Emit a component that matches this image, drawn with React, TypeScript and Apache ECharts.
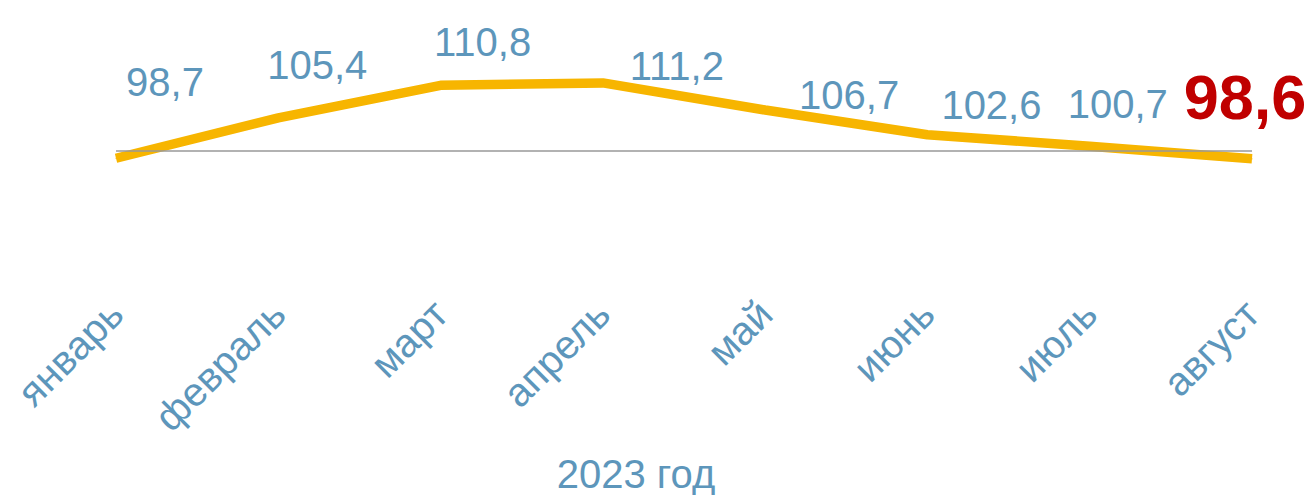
import React, { useEffect, useRef } from "react";
import * as echarts from "echarts";

const categories = ["январь", "февраль", "март", "апрель", "май", "июнь", "июль", "август"];
const values = [98.7, 105.4, 110.8, 111.2, 106.7, 102.6, 100.7, 98.6];
const baseline = 100;
const axisName = "2023 год";

// label layout (pixel offsets from each point)
const labelOffsets: [number, number][] = [
  [49, -76],
  [39, -53],
  [42, -43],
  [74, -17],
  [84, -15],
  [64, -30],
  [28, -42],
  [-7, -62],
];

const BLUE = "#5d96bb";
const FONT = "Arial, 'Liberation Sans', sans-serif";

export default function App() {
  const ref = useRef<HTMLDivElement>(null);
  useEffect(() => {
    document.body.style.margin = "0";
    const chart = echarts.init(ref.current!, undefined, { renderer: "svg" });
    const last = values.length - 1;
    chart.setOption({
      animation: false,
      grid: { left: 116, right: 56, top: 60, bottom: 207.5 },
      xAxis: {
        type: "category",
        data: categories,
        boundaryGap: false,
        axisLine: { show: false },
        axisTick: { show: false },
        axisLabel: {
          rotate: 45,
          color: BLUE,
          fontSize: 40,
          fontFamily: FONT,
          margin: 24,
          interval: 0,
        },
        name: axisName,
        nameLocation: "middle",
        nameGap: 171,
        nameTextStyle: { color: BLUE, fontSize: 40, fontFamily: FONT, padding: [0, 96, 0, 0] },
      },
      yAxis: {
        type: "value",
        min: 78,
        max: 115,
        show: false,
      },
      series: [
        {
          type: "line",
          data: [],
          z: 1,
          markLine: {
            silent: true,
            symbol: "none",
            label: { show: false },
            lineStyle: { color: "#999999", width: 1.5, type: "solid" },
            data: [{ yAxis: baseline }],
          },
        },
        {
          type: "line",
          z: 2,
          data: values.map((v, i) => ({
            value: v,
            label: {
              offset: labelOffsets[i],
              ...(i === last
                ? { color: "#c00000", fontSize: 63, fontWeight: "bold" }
                : {}),
            },
          })),
          symbol: "circle",
          symbolSize: 1,
          itemStyle: { color: "#f7b500" },
          lineStyle: { color: "#f7b500", width: 9.5, cap: "butt" },
          label: {
            show: true,
            position: "inside",
            color: BLUE,
            fontSize: 40,
            fontFamily: FONT,
            formatter: (p: any) => String(p.value).replace(".", ","),
          },
        },
      ],
    });
    return () => chart.dispose();
  }, []);
  return <div ref={ref} style={{ width: 1308, height: 495 }} />;
}
